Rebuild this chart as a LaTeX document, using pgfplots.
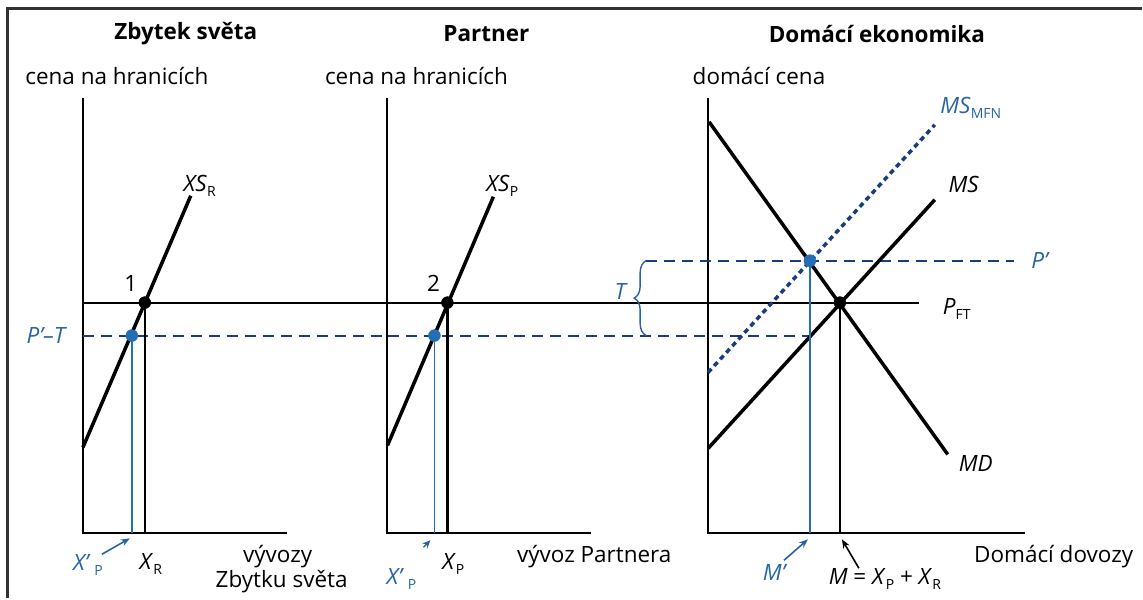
\documentclass[border=0pt]{standalone}
\usepackage{pgfplots}
\pgfplotsset{compat=1.18}
\usepackage{fontspec}
\setmainfont{Open Sans}
\usetikzlibrary{decorations.pathreplacing,arrows.meta}
\definecolor{dotblue}{RGB}{35,110,180}
\definecolor{navy}{RGB}{25,60,125}
\definecolor{lblue}{RGB}{40,100,165}
\newcommand{\sub}[1]{\raisebox{-0.4ex}{\fontsize{14}{14}\selectfont\upshape #1}}
\begin{document}
\begin{tikzpicture}
\begin{axis}[scale only axis, width=1143pt, height=599pt,
  xmin=0, xmax=1143, ymin=0, ymax=599, y dir=reverse,
  hide axis, clip=false]
\path[draw=none] (axis cs:0,0) rectangle (axis cs:1143,599);
% frame
\addplot[black!80, line width=3pt] coordinates {(7.5,599)(7.5,8.5)(1143,8.5)};
% axes
\addplot[black, line width=2pt] coordinates {(83,98)(83,534)(287,534)};
\addplot[black, line width=2pt] coordinates {(388,98)(388,534)(592,534)};
\addplot[black, line width=2pt] coordinates {(709,98)(709,534)(1026,534)};
% free trade price
\addplot[black, line width=1.8pt] coordinates {(83,303)(920,303)};
% dashed lines
\addplot[navy, line width=2pt, dash pattern=on 11pt off 7pt] coordinates {(83,336)(811,336)};
\addplot[navy, line width=2pt, dash pattern=on 11pt off 7pt] coordinates {(647,261)(1015,261)};
% supply curves
\addplot[black, line width=3.5pt] coordinates {(83,448)(191,196)};
\addplot[black, line width=3.5pt] coordinates {(388,446)(494,197)};
\addplot[black, line width=3.5pt] coordinates {(710,122)(949,455)};
\addplot[black, line width=3.5pt] coordinates {(709,449)(936,200)};
\addplot[navy, line width=3.5pt, dash pattern=on 5pt off 4pt] coordinates {(709,373)(936,125)};
% verticals
\addplot[black, line width=1.5pt] coordinates {(145,303)(145,534)};
\addplot[black, line width=2.5pt] coordinates {(448,303)(448,534)};
\addplot[black, line width=2.5pt] coordinates {(841,303)(841,534)};
\addplot[dotblue, line width=1.8pt] coordinates {(132,336)(132,534)};
\addplot[dotblue, line width=1.8pt] coordinates {(435,336)(435,534)};
\addplot[dotblue, line width=1.8pt] coordinates {(811,261)(811,534)};
% points
\addplot[only marks, mark=*, mark size=6pt, black] coordinates {(145,303)(448,303)(841,303)};
\addplot[only marks, mark=*, mark size=6pt, dotblue, mark options={draw=dotblue, fill=dotblue}] coordinates {(132,336)(435,336)(811,261)};
% brace
\draw[lblue, line width=1.4pt, decorate, decoration={brace, amplitude=12pt}] (axis cs:647,336) -- (axis cs:647,261);
% arrows
\draw[lblue, line width=1.6pt, -{Stealth[length=9pt,width=7pt]}] (axis cs:102,555) -- (axis cs:130,539);
\draw[lblue, line width=1.2pt, -{Stealth[length=8pt,width=7pt]}] (axis cs:424,548) -- (axis cs:431,541);
\draw[lblue, line width=1.6pt, -{Stealth[length=9pt,width=7pt]}] (axis cs:785,561) -- (axis cs:809,540);
\draw[black, line width=1.6pt, -{Stealth[length=9pt,width=7pt]}] (axis cs:860,569) -- (axis cs:843,540);
% texts
\begin{scope}[every node/.style={font=\fontsize{22.5}{26}\selectfont, inner sep=0pt}]
\node at (axis cs:186,34) {\textbf{Zbytek světa}};
\node at (axis cs:487,34) {\textbf{Partner}};
\node at (axis cs:878,34) {\textbf{Domácí ekonomika}};
\node at (axis cs:117,76) {cena na hranicích};
\node at (axis cs:417,76) {cena na hranicích};
\node at (axis cs:760,76) {domácí cena};
\node at (axis cs:200,186) {\textit{XS}\sub{R}};
\node at (axis cs:503,186) {\textit{XS}\sub{P}};
\node at (axis cs:131,284) {1};
\node at (axis cs:434,284) {2};
\node[text=lblue] at (axis cs:47,336) {\textit{P’–T}};
\node[text=lblue] at (axis cs:88,566) {\textit{X’}\,\sub{P}};
\node at (axis cs:151,565) {\textit{X}\sub{R}};
\node at (axis cs:278,557) {vývozy};
\node at (axis cs:282,582) {Zbytku světa};
\node at (axis cs:454,565) {\textit{X}\sub{P}};
\node[text=lblue] at (axis cs:402,580) {\textit{X’}\,\sub{P}};
\node at (axis cs:595,557) {vývoz Partnera};
\node[text=lblue] at (axis cs:622,292) {\textit{T}};
\node[text=lblue] at (axis cs:1042,261) {\textit{P’}};
\node at (axis cs:958,309) {\textit{P}\sub{FT}};
\node[text=lblue] at (axis cs:972,108) {\textit{MS}\sub{MFN}};
\node at (axis cs:965,185) {\textit{MS}};
\node at (axis cs:977,464) {\textit{MD}};
\node[text=lblue] at (axis cs:776,573) {\textit{M’}};
\node at (axis cs:886,580) {\textit{M} = \textit{X}\sub{P} + \textit{X}\sub{R}};
\node at (axis cs:1055,557) {Domácí dovozy};
\end{scope}
\end{axis}
\end{tikzpicture}
\end{document}
